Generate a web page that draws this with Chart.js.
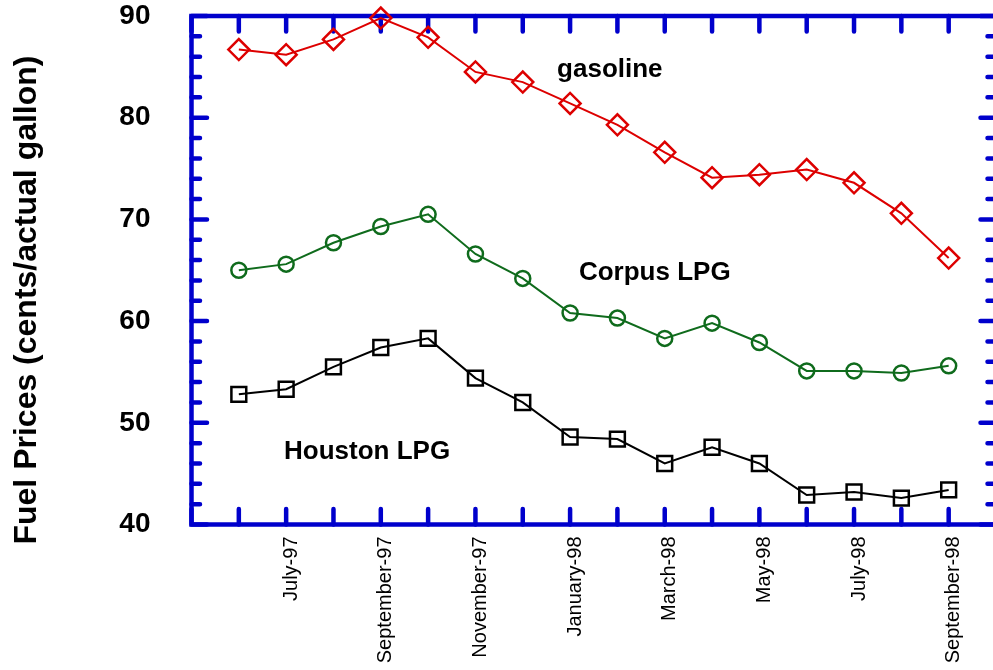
<!DOCTYPE html>
<html>
<head>
<meta charset="utf-8">
<title>Fuel Prices</title>
<script src="https://cdn.jsdelivr.net/npm/chart.js@4"></script>
<style>
    html, body { margin: 0; padding: 0; background: #fff; overflow: hidden; }
    #wrap { width: 993px; height: 670px; overflow: hidden; position: relative; }
    canvas { display: block; }
</style>
</head>
<body>
<!-- canvas is a bit wider than the window: the right frame of the plot falls just past the edge, as in the original -->
<div id="wrap">
<canvas id="fuelChart" width="1009" height="670"></canvas>
</div>
<script>
const months = ['June-97', 'July-97', 'August-97', 'September-97', 'October-97', 'November-97', 'December-97', 'January-98',
    'February-98', 'March-98', 'April-98', 'May-98', 'June-98', 'July-98', 'August-98', 'September-98'];

const gasoline = [86.7, 86.2, 87.7, 89.8, 87.9, 84.5, 83.5, 81.4, 79.3, 76.6, 74.1, 74.4, 74.9, 73.6, 70.6, 66.2];
const corpusLPG = [65.0, 65.6, 67.7, 69.3, 70.5, 66.6, 64.2, 60.8, 60.3, 58.3, 59.8, 57.9, 55.1, 55.1, 54.9, 55.6];
const houstonLPG = [52.8, 53.3, 55.5, 57.4, 58.3, 54.4, 52.0, 48.6, 48.4, 46.0, 47.6, 46.0, 42.9, 43.2, 42.6, 43.4];

const yMin = 40;
const yMax = 90;

const axisBlue = '#0000cc';
const fontFamily = "'Liberation Sans', Arial, Helvetica, sans-serif";

// month index 0 is the empty May-97 slot at the left frame, 17 is October-98 at the right frame
function toPoints(values) {
    return values.map((v, i) => ({ x: i + 1, y: v }));
}

const framePlugin = {
    id: 'frame',
    beforeDatasetsDraw(chart) {
        const { ctx, chartArea: a, scales: { x, y } } = chart;
        ctx.save();
        ctx.strokeStyle = axisBlue;
        ctx.lineWidth = 4.5;
        ctx.lineCap = 'round';
        ctx.beginPath();
        for (let v = yMin; v <= yMax; v += 2) {
            const py = y.getPixelForValue(v);
            const len = v % 10 === 0 ? 15.5 : 8.5;
            ctx.moveTo(a.left, py);
            ctx.lineTo(a.left + len, py);
            ctx.moveTo(a.right, py);
            ctx.lineTo(a.right - len, py);
        }
        for (let m = 0; m <= 17; m++) {
            const px = x.getPixelForValue(m);
            ctx.moveTo(px, a.top);
            ctx.lineTo(px, a.top + 15.5);
            ctx.moveTo(px, a.bottom);
            ctx.lineTo(px, a.bottom - 15.5);
        }
        ctx.stroke();
        ctx.lineCap = 'square';
        ctx.strokeRect(a.left, a.top, a.right - a.left, a.bottom - a.top);
        ctx.restore();
    },
    afterDraw(chart) {
        const { ctx, scales: { x, y } } = chart;
        ctx.save();
        ctx.fillStyle = '#000';
        ctx.textAlign = 'center';
        ctx.textBaseline = 'alphabetic';

        ctx.font = 'bold 26px ' + fontFamily;
        ctx.fillText('gasoline', x.getPixelForValue(8.84), y.getPixelForValue(84.0));
        ctx.fillText('Corpus LPG', x.getPixelForValue(9.79), y.getPixelForValue(64.0));
        ctx.fillText('Houston LPG', x.getPixelForValue(3.71), y.getPixelForValue(46.4));

        // y axis title, drawn by hand so it can sit a little below the centre of the plot
        ctx.translate(27, 300);
        ctx.rotate(-Math.PI / 2);
        ctx.textBaseline = 'middle';
        ctx.font = 'bold 32px ' + fontFamily;
        ctx.fillText('Fuel Prices (cents/actual gallon)', 0, 0);
        ctx.restore();
    }
};

function lineDataset(label, values, color, style, radius) {
    return {
        label: label,
        data: toPoints(values),
        borderColor: color,
        borderWidth: 2,
        pointStyle: style,
        pointRadius: radius,
        pointBorderWidth: 2.5,
        pointBorderColor: color,
        pointBackgroundColor: 'rgba(0,0,0,0)',
        tension: 0,
        clip: false,
    };
}

new Chart(document.getElementById('fuelChart').getContext('2d'), {
    type: 'line',
    data: {
        datasets: [
            lineDataset('gasoline', gasoline, '#dd0000', 'rectRot', 10.5),
            lineDataset('Corpus LPG', corpusLPG, '#0f6b1c', 'circle', 7.5),
            lineDataset('Houston LPG', houstonLPG, '#000000', 'rect', 10.5),
        ],
    },
    options: {
        responsive: false,
        animation: false,
        layout: { padding: { left: 0, top: 16, right: 0, bottom: 0 } },
        plugins: {
            legend: { display: false },
            tooltip: { enabled: false },
        },
        scales: {
            x: {
                type: 'linear',
                min: 0,
                max: 17,
                grid: { display: false, drawTicks: false },
                border: { display: false },
                afterBuildTicks(scale) {
                    scale.ticks = [];
                    for (let m = 2; m <= 16; m += 2) scale.ticks.push({ value: m });
                },
                ticks: {
                    autoSkip: false,
                    minRotation: 90,
                    maxRotation: 90,
                    padding: 12,
                    labelOffset: 5,
                    color: '#000',
                    font: { family: fontFamily, size: 20 },
                    callback: value => months[value - 1],
                },
                afterFit(scale) {
                    scale.height = 145.5;
                },
            },
            y: {
                min: yMin,
                max: yMax,
                grid: { display: false, drawTicks: false },
                border: { display: false },
                ticks: {
                    stepSize: 10,
                    padding: 41,
                    color: '#000',
                    font: { family: fontFamily, size: 28, weight: 'bold' },
                },
                afterFit(scale) {
                    scale.width = 191.5;
                    scale.paddingTop = 0;
                    scale.paddingBottom = 0;
                },
            },
        },
    },
    plugins: [framePlugin],
});
</script>
</body>
</html>
